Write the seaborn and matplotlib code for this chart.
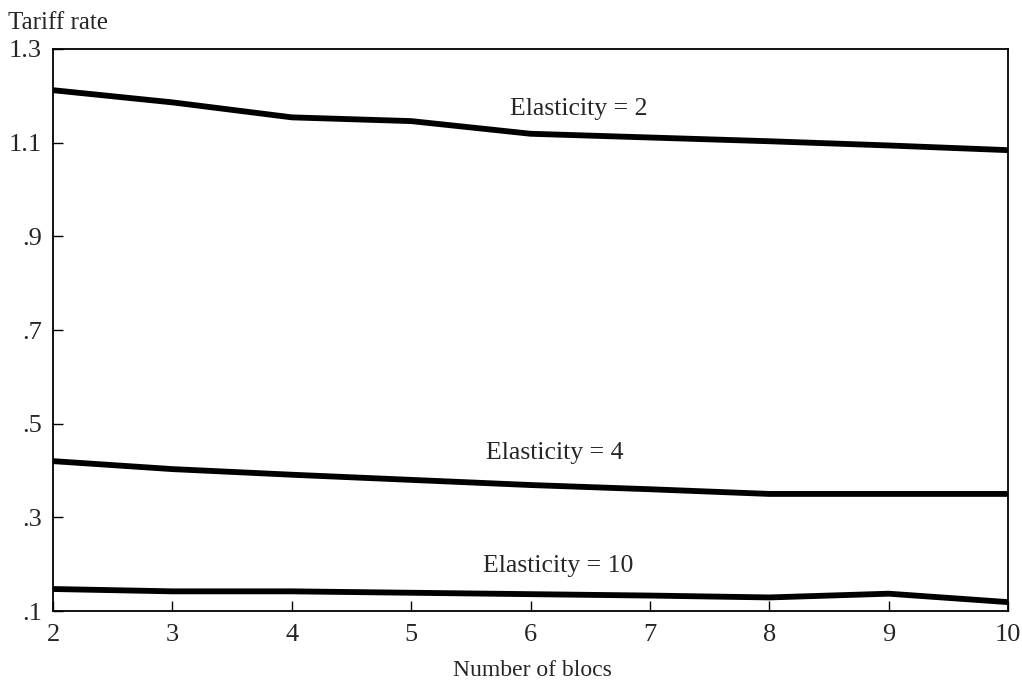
import pandas as pd
import matplotlib
matplotlib.use("Agg")
import matplotlib.pyplot as plt
import seaborn as sns

# Data
BLOCS = [2, 3, 4, 5, 6, 7, 8, 9, 10]
TARIFF_E2 = [1.212, 1.186, 1.154, 1.146, 1.119, 1.111, 1.103, 1.094, 1.084]
TARIFF_E4 = [0.420, 0.403, 0.391, 0.380, 0.369, 0.360, 0.350, 0.350, 0.350]
TARIFF_E10 = [0.147, 0.142, 0.142, 0.139, 0.136, 0.133, 0.129, 0.137, 0.119]

Y_TICKS = [0.1, 0.3, 0.5, 0.7, 0.9, 1.1, 1.3]
Y_TICK_LABELS = ['.1', '.3', '.5', '.7', '.9', '1.1', '1.3']

LABELS = {
    'Elasticity = 2': (6.40, 1.172),
    'Elasticity = 4': (6.20, 0.437),
    'Elasticity = 10': (6.23, 0.196),
}

df = pd.concat([
    pd.DataFrame({'blocs': BLOCS, 'tariff': TARIFF_E2, 'elasticity': 'Elasticity = 2'}),
    pd.DataFrame({'blocs': BLOCS, 'tariff': TARIFF_E4, 'elasticity': 'Elasticity = 4'}),
    pd.DataFrame({'blocs': BLOCS, 'tariff': TARIFF_E10, 'elasticity': 'Elasticity = 10'}),
])

sns.set_style('ticks')
plt.rcParams['font.family'] = ['Liberation Serif', 'DejaVu Serif']

fig = plt.figure(figsize=(10.22, 6.86), dpi=100)
ax = fig.add_axes([0.0519, 0.1093, 0.9344, 0.8193])

sns.lineplot(data=df, x='blocs', y='tariff', hue='elasticity',
             palette=['black', 'black', 'black'], linewidth=4.2,
             legend=False, ax=ax)

for text, (x, y) in LABELS.items():
    ax.text(x, y, text, ha='center', va='center', fontsize=18.5)

ax.set_xlim(2, 10)
ax.set_ylim(0.1, 1.3)
ax.set_xticks(BLOCS)
ax.set_xticklabels([str(b) for b in BLOCS], fontsize=19)
ax.set_yticks(Y_TICKS)
ax.set_yticklabels(Y_TICK_LABELS, fontsize=19)
ax.tick_params(direction='in', length=7, width=1.0, color='black', pad=8)
ax.tick_params(axis='x', pad=9)

for side in ['top', 'right', 'bottom', 'left']:
    ax.spines[side].set_visible(True)
    ax.spines[side].set_linewidth(1.3)
    ax.spines[side].set_color('black')

ax.set_xlabel('')
ax.set_ylabel('')
fig.text(0.008, 0.966, 'Tariff rate', ha='left', va='center', fontsize=18)
fig.text(0.521, 0.022, 'Number of blocs', ha='center', va='center', fontsize=17)

fig.savefig('out.png', dpi=100)
